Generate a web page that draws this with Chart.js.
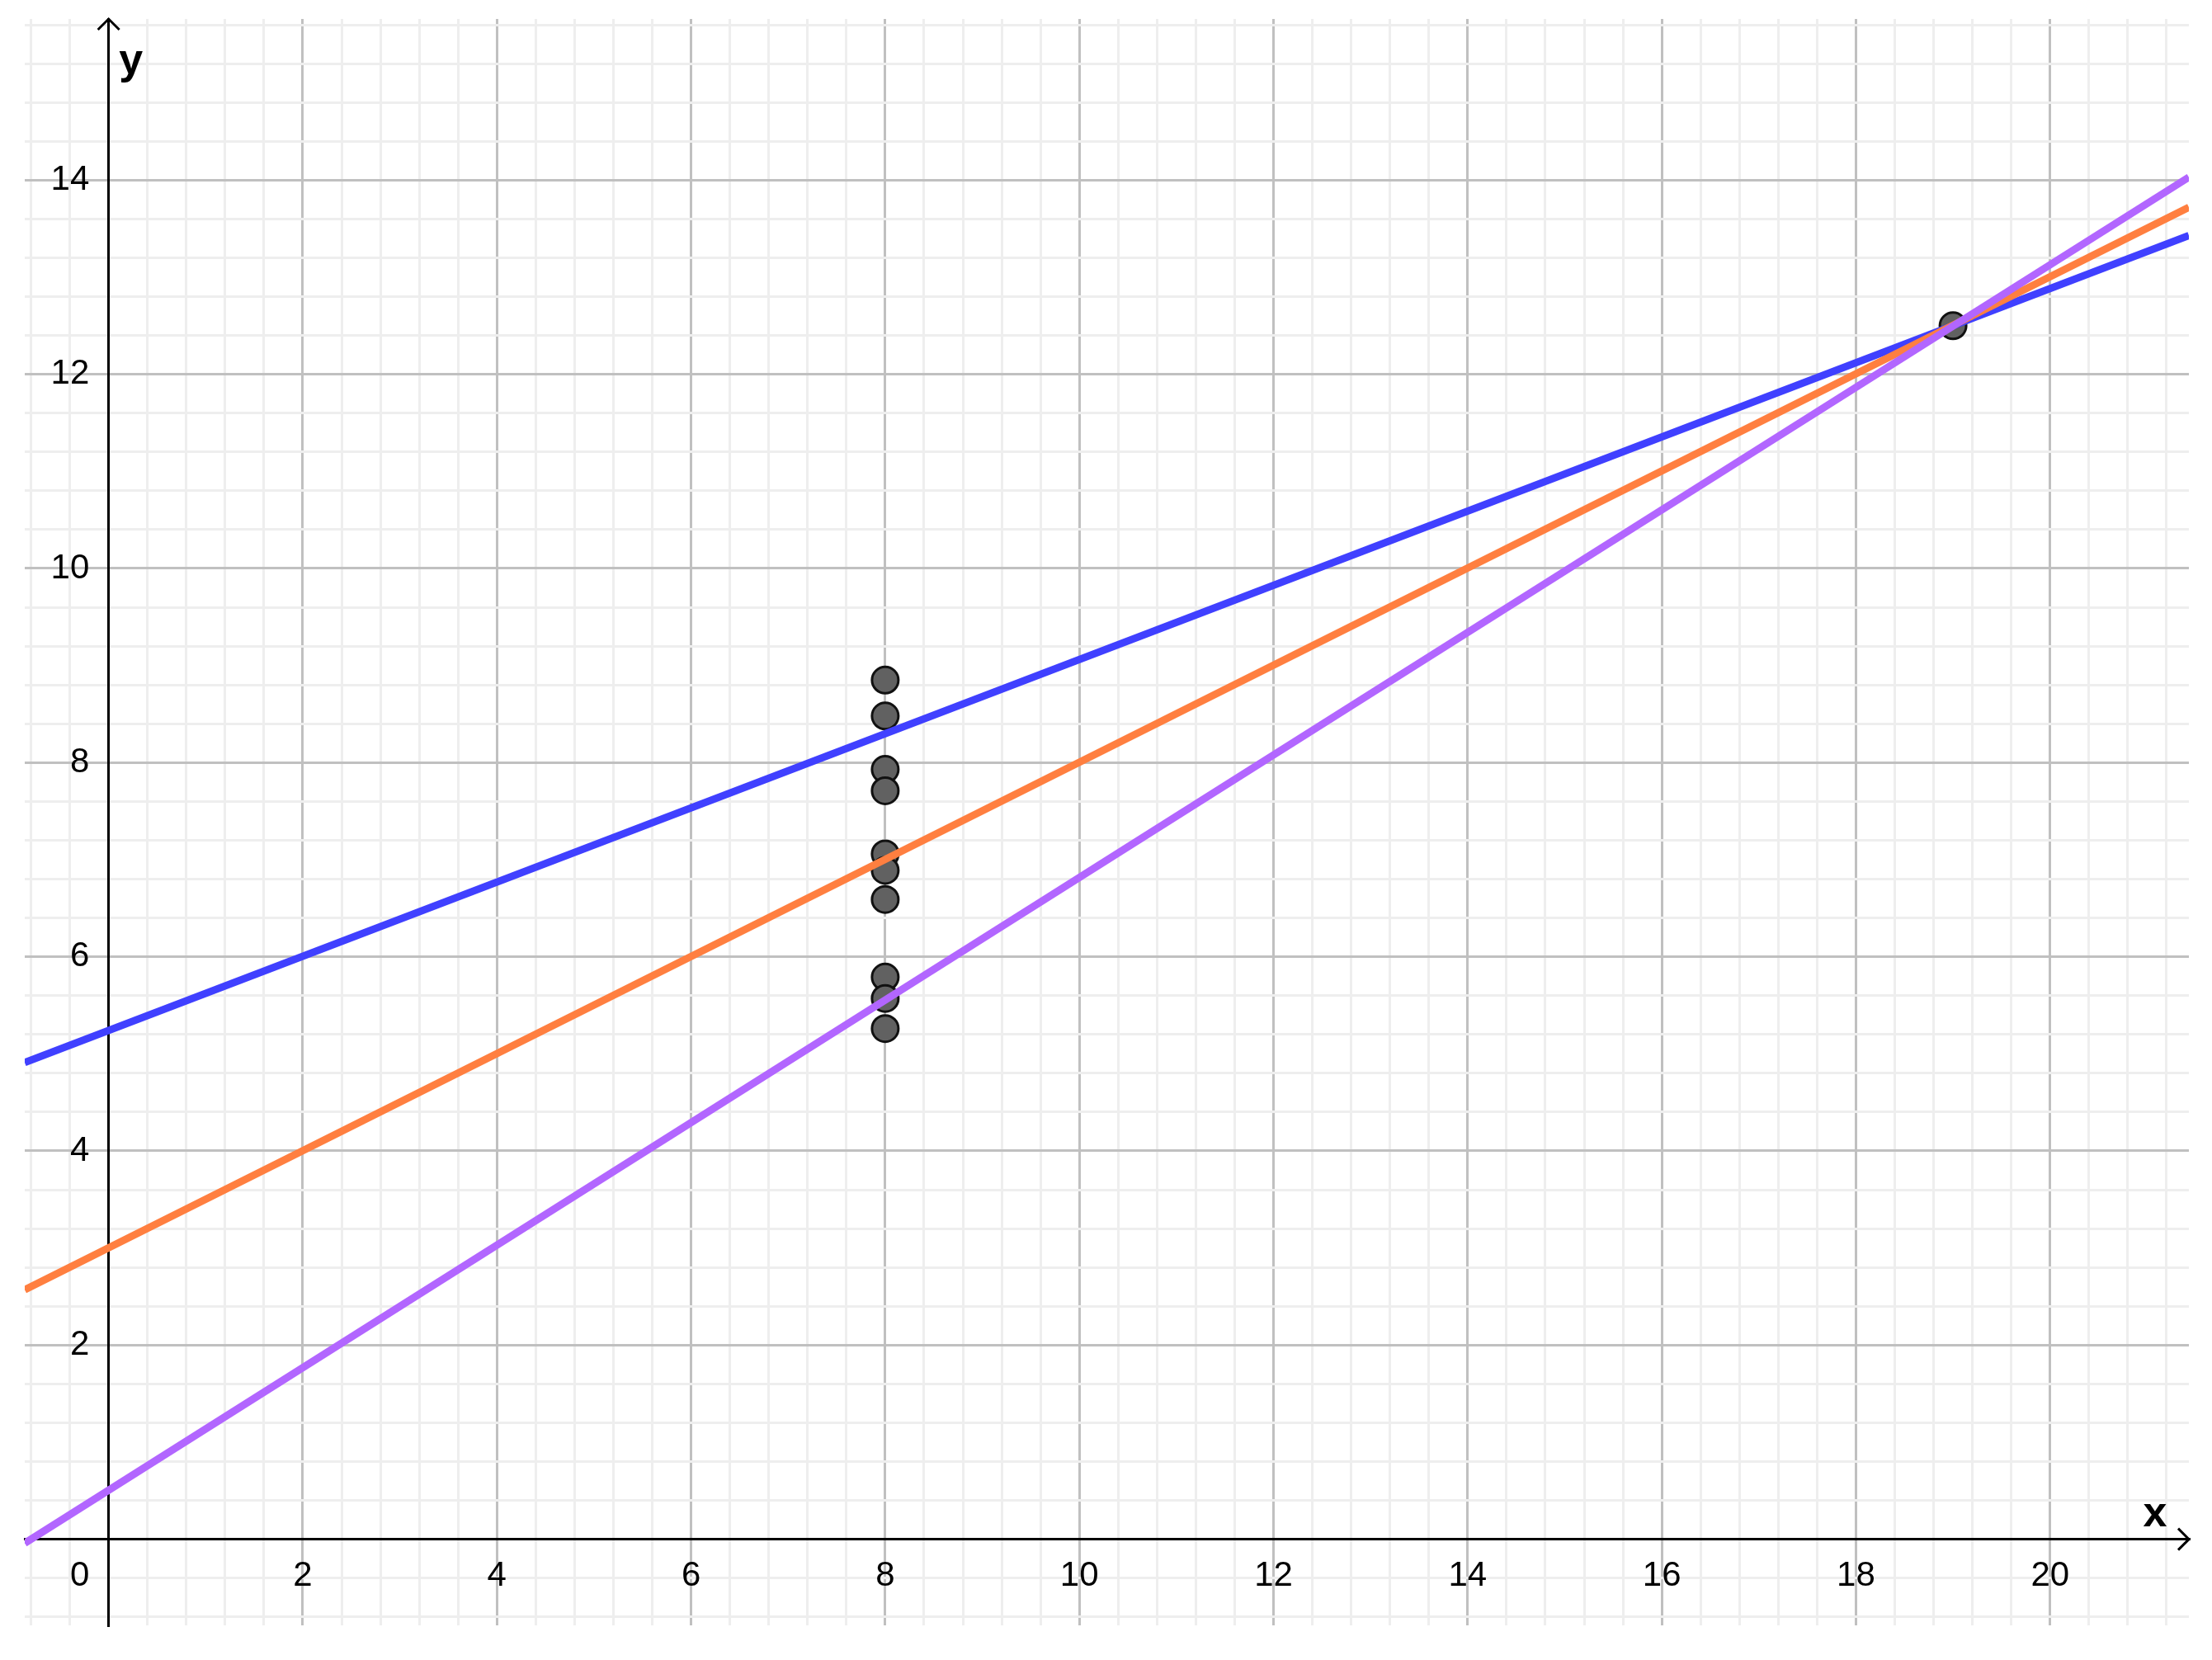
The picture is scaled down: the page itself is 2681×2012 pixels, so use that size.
<!DOCTYPE html>
<html>
<head>
<meta charset="utf-8">
<title>Lines through (19, 12.5)</title>
<style>
  html, body { margin: 0; padding: 0; background: #fff; }
  canvas { display: block; }
</style>
<script src="https://cdn.jsdelivr.net/npm/chart.js@4.4.0/dist/chart.umd.min.js"></script>
</head>
<body>
<canvas id="graph" width="2681" height="2012"></canvas>
<script>
// visible window of the graph
const xRange = [-0.864, 21.43];
const yRange = [-0.887, 15.66];
const gridStep = 0.4;   // minor grid
const labelStep = 2;    // major grid + labels

// the three lines, read at the left and right edge of the window
const lineX = [-0.864, 21.43];
const blueY = [4.91, 13.43];
const orangeY = [2.57, 13.72];
const purpleY = [-0.04, 14.03];

// the points
const pointX = [8, 8, 8, 8, 8, 8, 8, 8, 8, 8, 19];
const pointY = [8.85, 8.48, 7.93, 7.71, 7.06, 6.89, 6.59, 5.79, 5.57, 5.26, 12.5];

const colors = {
  blue: '#4040ff',
  orange: '#ff7f40',
  purple: '#b266ff',
  point: '#616161',
  major: '#c0c0c0',
  minor: '#eeeeee'
};

const tickFont = { family: '"Liberation Sans", Arial, sans-serif', size: 42 };

function isMajor(v) {
  return Math.abs(v / labelStep - Math.round(v / labelStep)) < 1e-6;
}

function toXY(xs, ys) {
  return xs.map((x, i) => ({ x: x, y: ys[i] }));
}

function lineSet(label, ys, color, order) {
  return {
    label: label,
    data: toXY(lineX, ys),
    showLine: true,
    borderColor: color,
    borderWidth: 9,
    pointRadius: 0,
    order: order
  };
}

// axes sit at x=0 / y=0, so they take no room in the layout
function noRoom(scale) {
  if (scale.isHorizontal()) scale.height = 0; else scale.width = 0;
  scale.paddingTop = 0;
  scale.paddingBottom = 0;
  scale.paddingLeft = 0;
  scale.paddingRight = 0;
}

// arrow heads and axis names, placed from the scales
const axisDecor = {
  id: 'axisDecor',
  afterDraw(chart) {
    const { ctx, chartArea: a, scales: { x, y } } = chart;
    const ox = x.getPixelForValue(0);
    const oy = y.getPixelForValue(0);
    ctx.save();
    ctx.strokeStyle = '#000';
    ctx.lineWidth = 3;
    ctx.beginPath();
    ctx.moveTo(a.right - 13, oy - 13);
    ctx.lineTo(a.right, oy);
    ctx.lineTo(a.right - 13, oy + 13);
    ctx.moveTo(ox - 13, a.top + 13);
    ctx.lineTo(ox, a.top);
    ctx.lineTo(ox + 13, a.top + 13);
    ctx.stroke();
    ctx.fillStyle = '#000';
    ctx.font = 'bold 52px "Liberation Sans", Arial, sans-serif';
    ctx.textAlign = 'center';
    ctx.textBaseline = 'alphabetic';
    ctx.fillText('x', a.right - 41, oy - 16);
    ctx.fillText('y', ox + 27, a.top + 66);
    ctx.restore();
  }
};

const ctx = document.getElementById('graph').getContext('2d');

new Chart(ctx, {
  type: 'scatter',
  data: {
    datasets: [
      lineSet('purple', purpleY, colors.purple, 0),
      lineSet('orange', orangeY, colors.orange, 1),
      lineSet('blue', blueY, colors.blue, 2),
      {
        label: 'points',
        data: toXY(pointX, pointY),
        pointRadius: 16,
        pointBorderWidth: 3,
        backgroundColor: colors.point,
        borderColor: '#111',
        order: 3
      }
    ]
  },
  options: {
    responsive: false,
    animation: false,
    events: [],
    layout: {
      autoPadding: false,
      padding: { left: 30, top: 23, right: 28, bottom: 42 }
    },
    plugins: {
      legend: { display: false },
      tooltip: { enabled: false }
    },
    scales: {
      x: {
        type: 'linear',
        min: xRange[0],
        max: xRange[1],
        position: { y: 0 },
        afterFit: noRoom,
        border: { display: true, color: '#000', width: 3 },
        grid: {
          drawTicks: false,
          lineWidth: 3,
          color: c => isMajor(c.tick.value) ? colors.major : colors.minor
        },
        ticks: {
          stepSize: gridStep,
          includeBounds: false,
          autoSkip: false,
          maxRotation: 0,
          padding: 20,
          color: '#000',
          font: tickFont,
          callback: function(v) {
            // origin label sits left of the y axis
            if (Math.abs(v) < 1e-6) return '0      ';
            return isMajor(v) ? String(Math.round(v)) : '';
          }
        }
      },
      y: {
        type: 'linear',
        min: yRange[0],
        max: yRange[1],
        position: { x: 0 },
        afterFit: noRoom,
        border: { display: true, color: '#000', width: 3 },
        grid: {
          drawTicks: false,
          lineWidth: 3,
          color: c => isMajor(c.tick.value) ? colors.major : colors.minor
        },
        ticks: {
          stepSize: gridStep,
          includeBounds: false,
          autoSkip: false,
          color: '#000',
          font: tickFont,
          callback: function(v) {
            if (Math.abs(v) < 1e-6) return '';
            return isMajor(v) ? String(Math.round(v)) + '  ' : '';
          }
        }
      }
    }
  },
  plugins: [axisDecor]
});
</script>
</body>
</html>
